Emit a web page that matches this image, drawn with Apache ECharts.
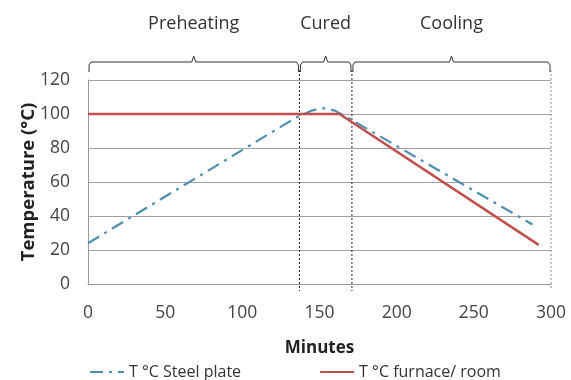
<!DOCTYPE html>
<html><head><meta charset="utf-8">
<script src="https://cdn.jsdelivr.net/npm/echarts@6/dist/echarts.min.js"></script>
<style>html,body{margin:0;padding:0;background:#fff}#c{width:571px;height:380px}</style>
</head><body><div id="c"></div>
<script>
// Data
const steelPlate = [[0,24],[135,98],[145,102],[152,103.5],[160,102],[168,98],[288,35]];
const furnace = [[0,100],[163,100],[292,23]];
const phaseNames = ['Preheating','Cured','Cooling'];
const phaseStart = [0,137,171];
const phaseEnd = [137,171,300];
const xTicks = [0,50,100,150,200,250,300];
const yTicks = [0,20,40,60,80,100,120];

const FONT = '"Open Sans", sans-serif';
const chart = echarts.init(document.getElementById('c'));
const phases = phaseNames.map((n,i)=>[phaseStart[i], phaseEnd[i], i]);

chart.setOption({
  animation:false,
  grid:{left:88,right:20,top:80,bottom:96},
  xAxis:{type:'value',min:0,max:300,interval:50,
    name:'Minutes',nameLocation:'middle',nameGap:56,nameMoveOverlap:false,
    nameTextStyle:{fontFamily:FONT,fontSize:17,fontWeight:'bold',color:'#222'},
    axisLine:{show:true,lineStyle:{color:'#999'}},axisTick:{show:false},
    splitLine:{show:false},
    axisLabel:{fontFamily:FONT,fontSize:17.5,color:'#444',margin:20}},
  yAxis:{type:'value',min:0,max:120,interval:20,
    name:'Temperature (°C)',nameLocation:'middle',nameGap:50,nameMoveOverlap:false,
    nameTextStyle:{fontFamily:FONT,fontSize:18.5,fontWeight:'bold',color:'#222'},
    axisLine:{show:true,lineStyle:{color:'#999'}},axisTick:{show:false},
    splitLine:{lineStyle:{color:'#a0a0a0'}},
    axisLabel:{fontFamily:FONT,fontSize:17.5,color:'#444',margin:18}},
  legend:{top:359,left:84,itemWidth:34,itemHeight:10,itemGap:78,
    itemStyle:{opacity:0},
    textStyle:{fontFamily:FONT,fontSize:16,color:'#333'},
    data:['T °C Steel plate','T °C furnace/ room']},
  series:[
    {name:'T °C Steel plate',type:'line',data:steelPlate,showSymbol:false,symbol:'none',
      lineStyle:{color:'#4f8fb2',width:2.2,type:[13,6,3,6]},itemStyle:{color:'#4f8fb2'},z:3},
    {name:'T °C furnace/ room',type:'line',data:furnace,showSymbol:false,symbol:'none',
      lineStyle:{color:'#c0504d',width:2.5},itemStyle:{color:'#c0504d'},z:4},
    {name:'phases',type:'custom',data:phases,encode:{x:[0,1]},clip:false,silent:true,z:1,
      renderItem:function(params,api){
        const x1 = api.coord([api.value(0),0])[0];
        const x2 = api.coord([api.value(1),0])[0];
        const idx = api.value(2);
        const xm = (x1+x2)/2;
        const yb = 62;
        const children = [];
        children.push({type:'polyline',shape:{points:[[x1+1,72],[x1+1,65],[x1+3,yb],[xm-2,yb],[xm,56],[xm+2,yb],[x2-3,yb],[x2-1,65],[x2-1,72]]},
          style:{stroke:'#333',lineWidth:1,fill:null}});
        children.push({type:'text',style:{text:phaseNames[idx],x:xm,y:24,align:'center',verticalAlign:'middle',
          font:'18px '+FONT,fill:'#333'}});
        if (idx>0){
          children.push({type:'line',shape:{x1:x1,y1:70,x2:x1,y2:291},style:{stroke:'#222',lineWidth:1,lineDash:[2,2]}});
        }
        if (idx===phaseNames.length-1){
          children.push({type:'line',shape:{x1:x2,y1:70,x2:x2,y2:288},style:{stroke:'#888',lineWidth:1,lineDash:[2,2]}});
        }
        return {type:'group',children:children};
      }}
  ]
});
</script></body></html>
